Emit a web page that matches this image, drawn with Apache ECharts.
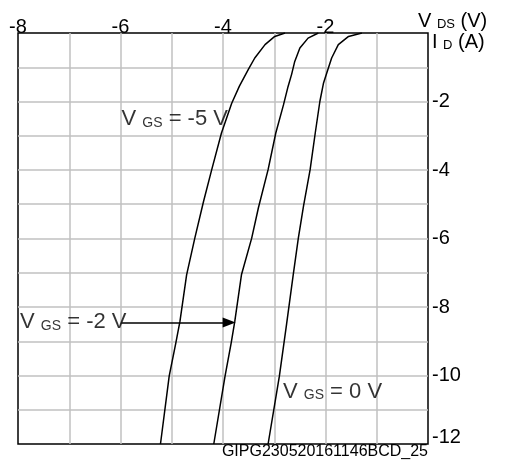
<!DOCTYPE html>
<html><head><meta charset="utf-8">
<script src="https://cdn.jsdelivr.net/npm/echarts@6/dist/echarts.min.js"></script>
<style>html,body{margin:0;padding:0;background:#fff}#c{width:505px;height:463px}</style>
</head><body><div id="c"></div>
<script>
// tick labels
const xTicks = [-8, -6, -4, -2];
const yTicks = [-2, -4, -6, -8, -10, -12];
// V_GS = -5 V
const vdsGs5 = [-2.79, -2.99, -3.18, -3.38, -3.50, -3.68, -3.83, -4.03, -4.22, -4.38, -4.55, -4.71, -4.84, -4.92, -5.05, -5.22];
const idGs5  = [0, -0.10, -0.34, -0.73, -1.05, -1.55, -2.05, -2.92, -3.99, -4.92, -5.99, -7.06, -8.42, -9.05, -10.02, -12];
// V_GS = -2 V
const vdsGs2 = [-2.14, -2.34, -2.50, -2.60, -2.66, -2.73, -2.82, -2.97, -3.12, -3.31, -3.44, -3.64, -3.77, -3.84, -3.96, -4.18];
const idGs2  = [0, -0.15, -0.44, -0.83, -1.20, -1.56, -2.10, -2.92, -3.99, -5.11, -5.99, -7.06, -8.42, -9.05, -10.02, -12];
// V_GS = 0 V
const vdsGs0 = [-1.29, -1.55, -1.75, -1.88, -1.95, -2.04, -2.11, -2.20, -2.30, -2.43, -2.53, -2.63, -2.76, -2.81, -2.90, -3.12];
const idGs0  = [0, -0.10, -0.34, -0.73, -1.05, -1.47, -2.00, -2.92, -3.99, -5.06, -5.99, -7.06, -8.51, -9.05, -10.02, -12];
// annotations (data coordinates of text left/middle anchor)
const noteText = ['-5', '-2', '0'];
const noteX = [-5.98, -7.96, -2.83];
const noteY = [-2.51, -8.43, -10.47];
// arrow for V_GS = -2 V
const arrowX = [-5.98, -3.88];
const arrowY = -8.45;

const FONT = 'Liberation Sans, Arial, sans-serif';
const zip = (xs, ys) => xs.map((x, i) => [x, ys[i]]);

const chart = echarts.init(document.getElementById('c'));
const curveStyle = {
  type: 'line', showSymbol: false, smooth: false, silent: true,
  lineStyle: { color: '#000', width: 1.5, join: 'round' }, itemStyle: { color: '#000' }, z: 3
};
chart.setOption({
  animation: false,
  backgroundColor: '#fff',
  grid: { left: 18, top: 33, right: 77, bottom: 19, show: true, borderColor: '#000', borderWidth: 1.5, backgroundColor: 'transparent' },
  xAxis: {
    type: 'value', position: 'top', min: -8, max: 0, interval: 1,
    axisLine: { show: false }, axisTick: { show: false },
    axisLabel: { formatter: v => xTicks.includes(v) ? String(v) : '', fontSize: 20, color: '#000', fontFamily: FONT, margin: -4 },
    splitLine: { show: true, showMinLine: false, showMaxLine: false, lineStyle: { color: '#c0c0c0', width: 1.5 } }
  },
  yAxis: {
    type: 'value', position: 'right', min: -12, max: 0, interval: 1,
    axisLine: { show: false }, axisTick: { show: false },
    axisLabel: {
      formatter: v => v === -12 ? '{lo|-12}' : (yTicks.includes(v) ? String(v) : ''),
      fontSize: 20, color: '#000', fontFamily: FONT, margin: 4,
      rich: { lo: { fontSize: 20, color: '#000', fontFamily: FONT, padding: [0, 0, 14, 0] } }
    },
    splitLine: { show: true, showMinLine: false, showMaxLine: false, lineStyle: { color: '#c0c0c0', width: 1.5 } }
  },
  series: [
    Object.assign({}, curveStyle, { name: 'VGS=-5', data: zip(vdsGs5, idGs5) }),
    Object.assign({}, curveStyle, {
      name: 'VGS=-2', data: zip(vdsGs2, idGs2),
      markLine: {
        silent: true, animation: false, symbol: ['none', 'triangle'], symbolSize: [10, 13],
        label: { show: false }, lineStyle: { color: '#000', width: 1.5, type: 'solid' },
        itemStyle: { color: '#000' },
        data: [[{ coord: [arrowX[0], arrowY] }, { coord: [arrowX[1], arrowY] }]]
      }
    }),
    Object.assign({}, curveStyle, { name: 'VGS=0', data: zip(vdsGs0, idGs0) }),
    {
      type: 'scatter', silent: true, symbolSize: 0, z: 4,
      data: zip(noteX, noteY),
      label: {
        show: true, position: 'right', distance: 0,
        formatter: p => '{a|V }{s|GS}{a| = ' + noteText[p.dataIndex] + ' V}',
        rich: {
          a: { fontSize: 22, color: '#000', fontFamily: FONT, verticalAlign: 'bottom' },
          s: { fontSize: 14, color: '#000', fontFamily: FONT, verticalAlign: 'bottom' }
        }
      }
    }
  ],
  graphic: [
    { type: 'text', x: 418, y: 21, style: { text: '{a|V }{s|DS}{a| (V)}', verticalAlign: 'middle', rich: {
      a: { fontSize: 20, fill: '#000', fontFamily: FONT, verticalAlign: 'bottom' },
      s: { fontSize: 13, fill: '#000', fontFamily: FONT, verticalAlign: 'bottom' } } } },
    { type: 'text', x: 432, y: 42, style: { text: '{a|I }{s|D}{a| (A)}', verticalAlign: 'middle', rich: {
      a: { fontSize: 20, fill: '#000', fontFamily: FONT, verticalAlign: 'bottom' },
      s: { fontSize: 13, fill: '#000', fontFamily: FONT, verticalAlign: 'bottom' } } } },
    { type: 'text', x: 428, y: 452, style: { text: 'GIPG230520161146BCD_25', align: 'right', verticalAlign: 'middle',
      fontSize: 16, fontFamily: FONT, fill: '#000' } }
  ]
});
</script></body></html>
